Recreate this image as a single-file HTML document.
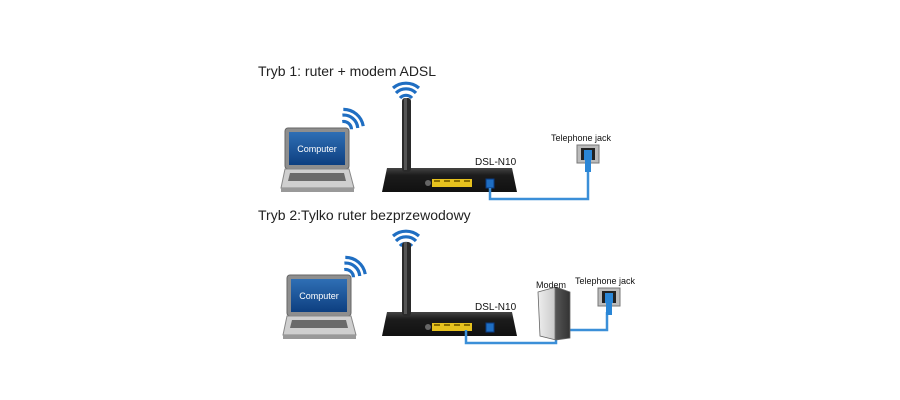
<!DOCTYPE html>
<html><head><meta charset="utf-8"><style>
html,body{margin:0;padding:0;background:#fff;}
svg{display:block;font-family:"Liberation Sans",sans-serif;}
</style></head><body>
<svg width="900" height="400" viewBox="0 0 900 400">
<defs>
  <linearGradient id="scr" x1="0" y1="0" x2="0" y2="1"><stop offset="0" stop-color="#2f6fb5"/><stop offset="1" stop-color="#0d3f80"/></linearGradient>
  <linearGradient id="rt" x1="0" y1="0" x2="0" y2="1"><stop offset="0" stop-color="#444"/><stop offset="0.3" stop-color="#1c1c1c"/><stop offset="1" stop-color="#111"/></linearGradient>
  <linearGradient id="mod" x1="0" y1="0" x2="1" y2="0"><stop offset="0" stop-color="#eee"/><stop offset="0.5" stop-color="#ccc"/><stop offset="0.55" stop-color="#555"/><stop offset="1" stop-color="#333"/></linearGradient>
  <g id="laptop">
    <rect x="0" y="0" width="64" height="41" rx="3" fill="#8e8e8e" stroke="#666"/>
    <rect x="4" y="4" width="56" height="33" fill="url(#scr)"/>
    <text x="32" y="24" font-size="9" fill="#fff" text-anchor="middle">Computer</text>
    <path d="M0 41 L64 41 L69 60 L-4 60 Z" fill="#cfcfcf" stroke="#888"/>
    <path d="M5 45 L59 45 L61 53 L3 53 Z" fill="#6a6a6a"/>
    <rect x="-4" y="60" width="73" height="4" fill="#999"/>
  </g>
  <g id="wifi" fill="none" stroke="#1f6ec2" stroke-width="3.2" stroke-linecap="butt">
    <path d="M-6 -6 A8 8 0 0 1 6 -6"/>
    <path d="M-10 -11 A14 14 0 0 1 10 -11"/>
    <path d="M-13 -16 A20 20 0 0 1 13 -16"/>
  </g>
  <g id="router">
    <path d="M5 0 L130 0 L135 24 L0 24 Z" fill="url(#rt)"/>
    <rect x="20" y="-70" width="9" height="74" rx="3" fill="#2a2a2a"/>
    <rect x="22" y="-70" width="3" height="72" fill="#555"/>
    <circle cx="46" cy="15" r="3" fill="#666"/>
    <rect x="50" y="11" width="40" height="8" fill="#e7c21e"/>
    <path d="M52 13h6M62 13h6M72 13h6M82 13h6" stroke="#8a6e00" stroke-width="2"/>
  </g>
  <g id="jack">
    <rect x="0" y="0" width="22" height="18" fill="#bbb" stroke="#777"/>
    <rect x="4" y="3" width="14" height="12" fill="#222"/>
    <rect x="7" y="5" width="8" height="10" fill="#2a86d6"/>
    <rect x="8" y="15" width="6" height="12" fill="#2a86d6"/>
  </g>
</defs>
<rect width="900" height="400" fill="#fff"/>

<text x="258" y="76" font-size="14" fill="#222">Tryb 1: ruter + modem ADSL</text>
<use href="#laptop" x="285" y="128"/>
<use href="#wifi" transform="translate(343,130) rotate(40)"/>
<use href="#wifi" x="406" y="104"/>
<use href="#router" x="382" y="168"/>
<rect x="486" y="179" width="8" height="9" fill="#1f6ec2" stroke="#0a3a80"/>
<text x="475" y="165" font-size="10" fill="#111">DSL-N10</text>
<polyline points="490,188 490,199 588,199 588,172" fill="none" stroke="#3b8fd8" stroke-width="2.5"/>
<use href="#jack" x="577" y="145"/>
<text x="551" y="141" font-size="9" fill="#111">Telephone jack</text>

<text x="258" y="220" font-size="14" fill="#222">Tryb 2:Tylko ruter bezprzewodowy</text>
<use href="#laptop" x="287" y="275"/>
<use href="#wifi" transform="translate(345,278) rotate(40)"/>
<use href="#wifi" x="406" y="252"/>
<use href="#router" x="382" y="312"/>
<rect x="486" y="323" width="8" height="9" fill="#1f6ec2" stroke="#0a3a80"/>
<text x="475" y="310" font-size="10" fill="#111">DSL-N10</text>
<polyline points="466,330 466,343 556,343 556,335" fill="none" stroke="#3b8fd8" stroke-width="2.5"/>
<polyline points="570,330 607,330 607,312" fill="none" stroke="#3b8fd8" stroke-width="2.5"/>
<path d="M538 292 L556 287 L570 292 L570 338 L556 340 L540 336 Z" fill="url(#mod)" stroke="#666" stroke-width="0.8"/>
<text x="536" y="288" font-size="9" fill="#111">Modem</text>
<use href="#jack" x="598" y="288"/>
<text x="575" y="284" font-size="9" fill="#111">Telephone jack</text>
</svg>
</body></html>
